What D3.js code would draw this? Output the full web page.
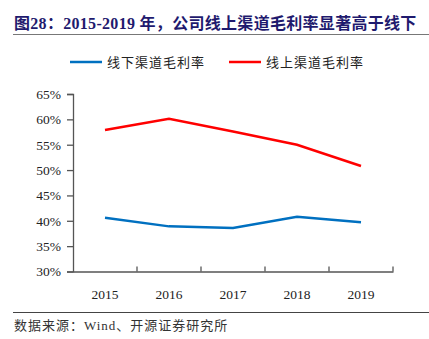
<!DOCTYPE html>
<html>
<head>
<meta charset="utf-8">
<script src="https://cdn.jsdelivr.net/npm/d3@7"></script>
<style>
  body { margin: 0; background: #fff; }
  svg { display: block; }
</style>
</head>
<body>
<svg id="chart" width="429" height="339"></svg>
<script>
var years = ["2015", "2016", "2017", "2018", "2019"];
var offlineMargin = [40.6, 38.9, 38.6, 40.8, 39.7];
var onlineMargin = [57.9, 60.1, 57.6, 55.0, 50.8];
var yTicks = [30, 35, 40, 45, 50, 55, 60, 65];

var series = [
  {name: "线下渠道毛利率", values: offlineMargin, color: "#0070C0"},
  {name: "线上渠道毛利率", values: onlineMargin, color: "#FF0000"}
];

var svg = d3.select("#chart");
var serif = "'Times New Roman', 'Liberation Serif', serif";
var cjk = "'Noto Sans CJK SC', sans-serif";

// title
svg.append("text")
    .attr("x", 14).attr("y", 29)
    .style("font-family", "'Liberation Serif', 'Noto Sans CJK SC', serif")
    .style("font-weight", "bold")
    .style("font-size", "16px")
    .style("letter-spacing", "0.3px")
    .style("fill", "#1F1A6E")
    .text("图28：2015-2019 年，公司线上渠道毛利率显著高于线下");

svg.append("line")
    .attr("x1", 13).attr("x2", 429).attr("y1", 34.5).attr("y2", 34.5)
    .style("stroke", "#777").style("stroke-width", 1.2);

var x = d3.scaleBand()
    .domain(years)
    .range([73, 393])
    .paddingInner(0).paddingOuter(0);

var y = d3.scaleLinear()
    .domain([30, 65])
    .range([271.5, 94]);

// legend
var legend = svg.selectAll(".legend")
    .data(series)
  .enter().append("g")
    .attr("class", "legend")
    .attr("transform", (d, i) => "translate(" + (70 + i * 159) + ",62)");

legend.append("line")
    .attr("x1", 0).attr("x2", 32)
    .style("stroke", d => d.color)
    .style("stroke-width", 2.5);

legend.append("text")
    .attr("x", 37).attr("y", 4.5)
    .style("font-family", cjk)
    .style("font-size", "13px")
    .style("letter-spacing", "1px")
    .style("fill", "#222")
    .text(d => d.name);

// y axis
var yAxis = svg.append("g")
    .attr("transform", "translate(73,0)")
    .call(d3.axisLeft(y).tickValues(yTicks).tickSize(6).tickPadding(6).tickFormat(d => d + "%"));

// x axis with inward ticks between bands
var xAxis = svg.append("g")
    .attr("transform", "translate(0,271.5)")
    .call(d3.axisBottom(x).tickSize(0).tickPadding(18));

xAxis.selectAll(".bound")
    .data(years.slice(1).concat(["end"]))
  .enter().append("line")
    .attr("class", "bound")
    .attr("x1", d => d == "end" ? 393 : x(d))
    .attr("x2", d => d == "end" ? 393 : x(d))
    .attr("y1", 0).attr("y2", -5);

svg.selectAll(".domain, .tick line, .bound")
    .style("stroke", "#555")
    .style("stroke-width", 1.3);

svg.selectAll(".tick text")
    .style("font-family", serif)
    .style("font-size", "13.5px")
    .style("fill", "#222");

// lines
var line = d3.line()
    .x((d, i) => x(years[i]) + x.bandwidth() / 2)
    .y(d => y(d));

svg.selectAll(".series")
    .data(series)
  .enter().append("path")
    .attr("class", "series")
    .attr("d", d => line(d.values))
    .style("fill", "none")
    .style("stroke", d => d.color)
    .style("stroke-width", 2.5);

// source
svg.append("line")
    .attr("x1", 13).attr("x2", 429).attr("y1", 312.5).attr("y2", 312.5)
    .style("stroke", "#444").style("stroke-width", 1);

svg.append("text")
    .attr("x", 14).attr("y", 330)
    .style("font-family", "'Liberation Serif', 'Noto Sans CJK SC', serif")
    .style("font-size", "13px")
    .style("letter-spacing", "1px")
    .style("fill", "#333")
    .text("数据来源：Wind、开源证券研究所");
</script>
</body>
</html>
